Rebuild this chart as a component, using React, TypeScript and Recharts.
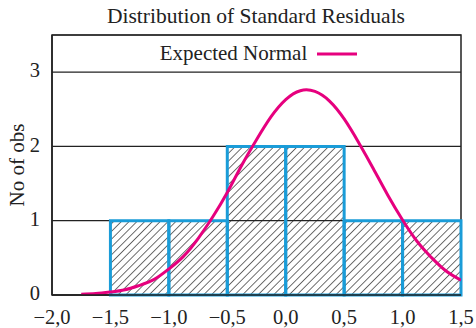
import React from 'react'
import { ComposedChart, Line, XAxis, YAxis, CartesianGrid, ReferenceArea, Legend } from 'recharts'

// histogram bins and counts
const binStarts = [-1.5, -1.0, -0.5, 0.0, 0.5, 1.0]
const binEnds = [-1.0, -0.5, 0.0, 0.5, 1.0, 1.5]
const counts = [1, 1, 2, 2, 1, 1]

// expected normal curve
const curveX = [-1.75, -1.625, -1.5, -1.375, -1.25, -1.125, -1.0, -0.875, -0.75, -0.625, -0.5, -0.375, -0.25, -0.125, 0.0, 0.125, 0.25, 0.375, 0.5, 0.625, 0.75, 0.875, 1.0, 1.125, 1.25, 1.375, 1.5]
const curveY = [0.01, 0.02, 0.04, 0.07, 0.13, 0.21, 0.35, 0.52, 0.76, 1.05, 1.38, 1.75, 2.09, 2.4, 2.63, 2.75, 2.74, 2.61, 2.37, 2.05, 1.7, 1.34, 1.01, 0.72, 0.5, 0.32, 0.2]

const xTicks = [-2.0, -1.5, -1.0, -0.5, 0.0, 0.5, 1.0, 1.5]
const xTickLabels = ['−2,0', '−1,5', '−1,0', '−0,5', '0,0', '0,5', '1,0', '1,5']
const yTicks = [0, 1, 2, 3]

const data = curveX.map((x, i) => ({ x, normal: curveY[i] }))

const FONT = '"Liberation Serif", "Times New Roman", serif'
const BLUE = '#1a9cd8'
const PINK = '#e6007e'

function LegendBox() {
  return (
    <div style={{ display: 'flex', justifyContent: 'center', alignItems: 'center', fontFamily: FONT, fontSize: 21, color: '#222', paddingLeft: 14 }}>
      <span>Expected Normal</span>
      <svg width={50} height={10} style={{ marginLeft: 10 }}>
        <line x1={0} y1={5} x2={40} y2={5} stroke={PINK} strokeWidth={3} />
      </svg>
    </div>
  )
}

export default function App() {
  return (
    <div style={{ position: 'absolute', left: 0, top: 0, width: 476, height: 328, background: '#fff' }}>
      <svg width={0} height={0} style={{ position: 'absolute' }}>
        <defs>
          <pattern id="hatch" patternUnits="userSpaceOnUse" width={5.5} height={5.5} patternTransform="rotate(45)">
            <line x1={0} y1={0} x2={0} y2={5.5} stroke="#222" strokeWidth={1.3} />
          </pattern>
        </defs>
      </svg>
      <div style={{ position: 'absolute', left: 0, top: 4, width: 512, textAlign: 'center', fontFamily: FONT, fontSize: 21.5, color: '#222' }}>
        Distribution of Standard Residuals
      </div>
      <ComposedChart width={476} height={328} data={data} margin={{ top: 35, right: 15, left: 0, bottom: 3 }}>
        <CartesianGrid vertical={false} stroke="#222" strokeWidth={1.2} />
        <XAxis
          dataKey="x"
          type="number"
          domain={[-2, 1.5]}
          ticks={xTicks}
          tickFormatter={(v: number) => xTickLabels[xTicks.indexOf(v)] ?? String(v)}
          interval={0}
          height={30}
          axisLine={{ stroke: '#222', strokeWidth: 1.5 }}
          tickLine={false}
          tickMargin={8}
          tick={{ fill: '#222', fontSize: 20.5, fontFamily: FONT }}
          allowDataOverflow
        />
        <YAxis
          type="number"
          domain={[0, 3.5]}
          ticks={yTicks}
          width={52}
          axisLine={{ stroke: '#222', strokeWidth: 1.5 }}
          tickLine={false}
          tickMargin={6}
          tick={{ fill: '#222', fontSize: 20.5, fontFamily: FONT, dy: -2 }}
          allowDataOverflow
          label={{ value: 'No of obs', angle: -90, position: 'insideLeft', offset: 17, style: { textAnchor: 'middle', fill: '#222', fontSize: 21, fontFamily: FONT } }}
        />
        <ReferenceArea x1={-2} x2={1.5} y1={0} y2={3.5} fill="none" stroke="#222" strokeWidth={1.5} ifOverflow="visible" />
        {counts.map((c, i) => (
          <ReferenceArea key={i} x1={binStarts[i]} x2={binEnds[i]} y1={0} y2={c} fill="url(#hatch)" fillOpacity={1} stroke={BLUE} strokeWidth={3} ifOverflow="visible" />
        ))}
        <Legend verticalAlign="middle" layout="horizontal" wrapperStyle={{ top: 41, left: 52, width: 409 }} content={() => <LegendBox />} />
        <Line type="natural" dataKey="normal" stroke={PINK} strokeWidth={3} dot={false} activeDot={false} isAnimationActive={false} />
      </ComposedChart>
    </div>
  )
}
